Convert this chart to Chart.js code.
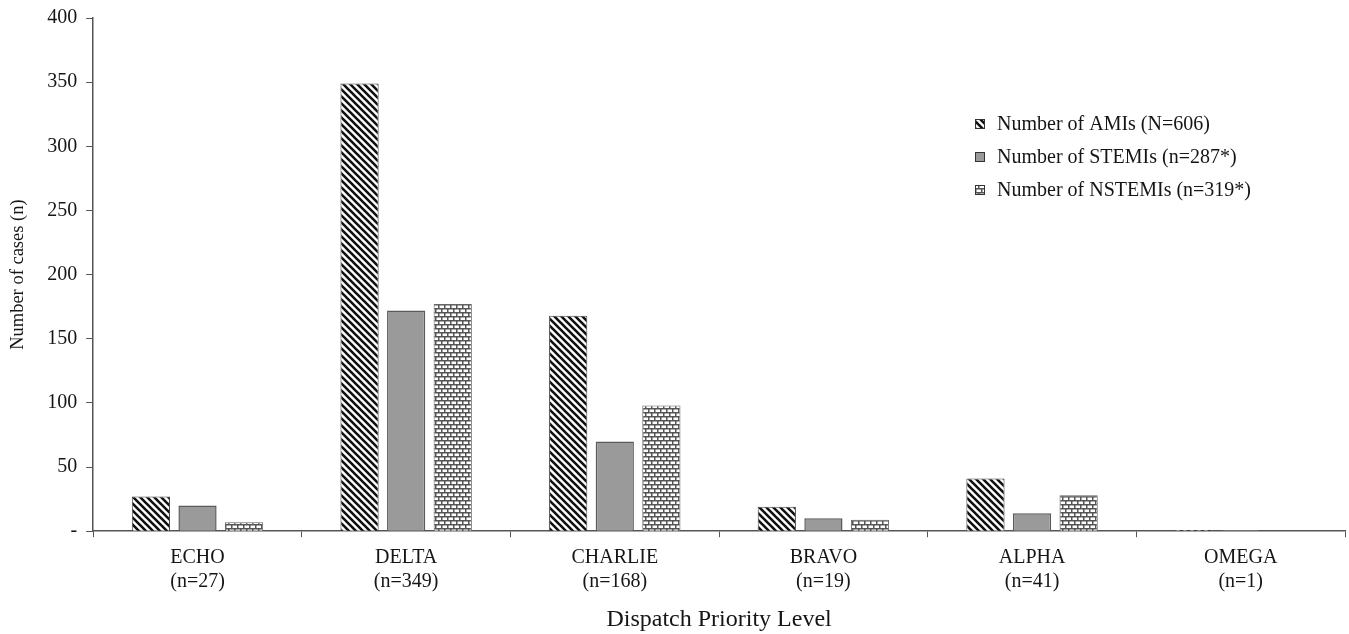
<!DOCTYPE html>
<html>
<head>
<meta charset="utf-8">
<script src="https://cdn.jsdelivr.net/npm/chart.js@4/dist/chart.umd.min.js"></script>
<style>
  html, body { margin: 0; padding: 0; background: #fff; }
  #wrap { width: 1349px; height: 634px; }
</style>
</head>
<body>
<div id="wrap"><canvas id="chart"></canvas></div>
<script>
const levels = ['ECHO', 'DELTA', 'CHARLIE', 'BRAVO', 'ALPHA', 'OMEGA']
const levelCounts = [27, 349, 168, 19, 41, 1]
const amiValues = [27, 349, 168, 19, 41, 1]
const stemiValues = [20, 172, 70, 10, 14, 1]
const nstemiValues = [7, 177, 98, 9, 28, 0]
const seriesLabels = ['Number of AMIs (N=606)', 'Number of STEMIs (n=287*)', 'Number of NSTEMIs (n=319*)']
const yTicks = [0, 50, 100, 150, 200, 250, 300, 350, 400]

const FONT = '"Liberation Serif", "Times New Roman", serif'
const TEXT = '#151515'

// hatch: black stripes running top-left to bottom-right
function stripePattern() {
   const c = document.createElement('canvas')
   const s = 7
   c.width = s; c.height = s
   const g = c.getContext('2d')
   g.fillStyle = '#fff'
   g.fillRect(0, 0, s, s)
   g.strokeStyle = '#111'
   g.lineWidth = 2.6
   g.beginPath()
   g.moveTo(-1, -1); g.lineTo(s + 1, s + 1)
   g.moveTo(-1, s - 1); g.lineTo(1, s + 1)
   g.moveTo(s - 1, -1); g.lineTo(s + 1, 1)
   g.stroke()
   return g.createPattern(c, 'repeat')
}

// small brick pattern for NSTEMI
function brickPattern() {
   const c = document.createElement('canvas')
   const w = 12, h = 8
   c.width = w; c.height = h
   const g = c.getContext('2d')
   g.fillStyle = '#fff'
   g.fillRect(0, 0, w, h)
   g.fillStyle = '#555'
   g.fillRect(0, 0, w, 1.5)
   g.fillRect(0, 4, w, 1.5)
   g.fillRect(0, 0, 1.5, 4)
   g.fillRect(6, 0, 1.5, 4)
   g.fillRect(3, 4, 1.5, 4)
   g.fillRect(9, 4, 1.5, 4)
   return g.createPattern(c, 'repeat')
}

const fills = [stripePattern(), '#9a9a9a', brickPattern()]
const borders = ['#444', '#5a5a5a', '#666']

const legendInside = {
   id: 'legendInside',
   afterDraw(chart) {
      const ctx = chart.ctx
      const x = 975, y0 = 124, step = 33
      ctx.save()
      ctx.font = '20px ' + FONT
      ctx.textBaseline = 'middle'
      chart.data.datasets.forEach((ds, i) => {
         const y = y0 + i * step
         ctx.fillStyle = ds.backgroundColor
         ctx.fillRect(x, y - 5, 10, 10)
         ctx.strokeStyle = '#333'
         ctx.lineWidth = 1
         ctx.strokeRect(x + 0.5, y - 4.5, 9, 9)
         ctx.fillStyle = TEXT
         ctx.fillText(ds.label, x + 22, y + 1)
      })
      ctx.restore()
   }
}

const datasetValues = [amiValues, stemiValues, nstemiValues]

new Chart(document.getElementById('chart'), {
   type: 'bar',
   data: {
      labels: levels.map((l, i) => [l, '(n=' + levelCounts[i] + ')']),
      datasets: datasetValues.map((vals, i) => ({
         label: seriesLabels[i],
         data: vals,
         backgroundColor: fills[i],
         borderColor: borders[i],
         borderWidth: i === 1 ? 1.5 : 1,
         categoryPercentage: 0.67,
         barPercentage: 0.82
      }))
   },
   options: {
      responsive: true,
      maintainAspectRatio: false,
      animation: false,
      layout: { padding: { top: 0, right: 4, left: 7, bottom: 0 } },
      plugins: {
         legend: { display: false },
         tooltip: { enabled: false }
      },
      scales: {
         x: {
            grid: {
               offset: true,
               drawOnChartArea: false,
               drawTicks: true,
               tickLength: 6,
               color: '#555'
            },
            border: { color: '#555', width: 1.5 },
            ticks: {
               color: TEXT,
               font: { family: FONT, size: 20, lineHeight: 1.2 },
               padding: 9
            },
            title: {
               display: true,
               text: 'Dispatch Priority Level',
               color: TEXT,
               font: { family: FONT, size: 24 },
               padding: { top: 2, bottom: 0 }
            }
         },
         y: {
            min: 0,
            max: 400,
            afterBuildTicks: (axis) => { axis.ticks = yTicks.map(v => ({ value: v })) },
            grid: {
               drawOnChartArea: false,
               drawTicks: true,
               tickLength: 7,
               color: '#555'
            },
            border: { color: '#555', width: 1.5 },
            ticks: {
               color: TEXT,
               font: { family: FONT, size: 20, lineHeight: 0.9 },
               padding: 9,
               callback: (v) => v === 0 ? '-' : v
            },
            title: {
               display: true,
               text: 'Number of cases (n)',
               color: TEXT,
               font: { family: FONT, size: 18.5 },
               padding: { top: 0, bottom: 9 }
            }
         }
      }
   },
   plugins: [legendInside]
});
</script>
</body>
</html>
